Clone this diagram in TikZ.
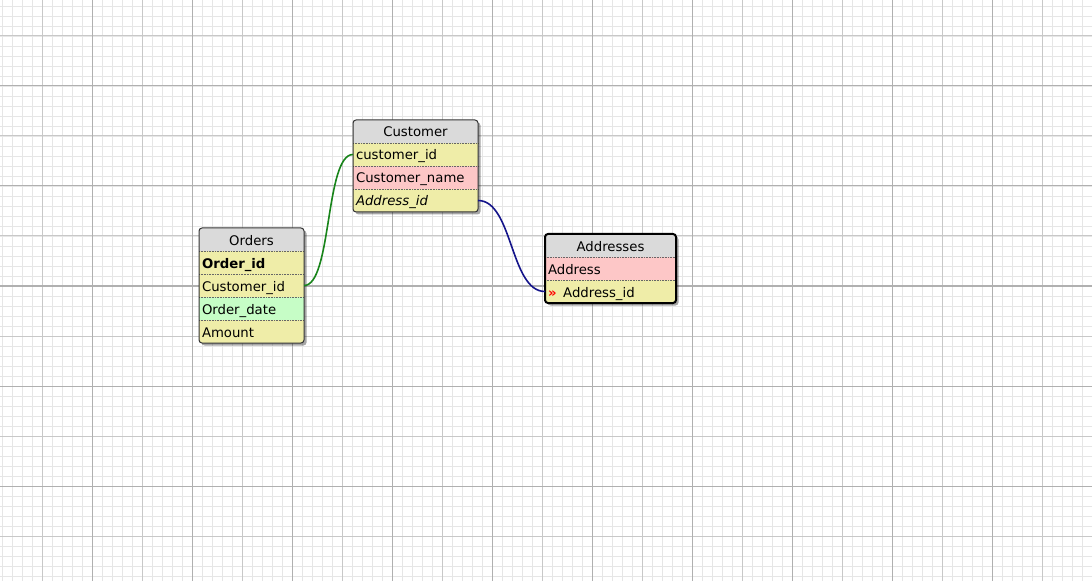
\documentclass[tikz,border=0pt]{standalone}
\usepackage{fontspec}
\setmainfont{DejaVu Sans}
\usetikzlibrary{shadows}

\definecolor{gridminor}{HTML}{E6E6E6}
\definecolor{gridmid}{HTML}{C8C8C8}
\definecolor{gridmajor}{HTML}{B0B0B0}
\definecolor{headgray}{HTML}{DADADA}
\definecolor{cellyellow}{HTML}{EFEDA8}
\definecolor{cellpink}{HTML}{FDC7C7}
\definecolor{cellgreen}{HTML}{C6FDC6}
\definecolor{linkgreen}{HTML}{18841A}
\definecolor{linkblue}{HTML}{14148A}

\tikzset{
  cell/.style={rectangle, anchor=north west, minimum height=23bp, inner xsep=3bp, inner ysep=0pt, outer sep=0pt,
    text height=12bp, text depth=1bp, font=\fontsize{13.3}{15}\selectfont, align=left},
  tabhead/.style={cell, fill=headgray, align=center},
  rowyel/.style={cell, fill=cellyellow},
  rowpnk/.style={cell, fill=cellpink},
  rowgrn/.style={cell, fill=cellgreen},
  rowsep/.style={densely dotted, draw=black!60, line width=0.6bp},
  tabframe/.style={rounded corners=3bp, draw=black!80, line width=1bp},
  tabshadow/.style={fill=white, rounded corners=3bp,
    drop shadow={shadow xshift=2.5bp, shadow yshift=-2.5bp, opacity=0.35, fill=black}},
  link/.style={line width=1.6bp}
}

\begin{document}
\begin{tikzpicture}[x=1bp,y=-1bp]
\useasboundingbox (0,0) rectangle (1092,581);
\fill[white] (0,0) rectangle (1092,581);
% grid
\foreach \x in {2.7,12.7,...,1092} \draw[gridminor, line width=0.7bp] (\x,0) -- (\x,581);
\foreach \y in {6,16,...,581} \draw[gridminor, line width=0.7bp] (0,\y) -- (1092,\y);
\foreach \x in {42.7,142.7,...,1092} \draw[gridmid, line width=1bp] (\x,0) -- (\x,581);
\foreach \y in {36,136,...,581} \draw[gridmid, line width=1bp] (0,\y) -- (1092,\y);
\foreach \x in {92.7,192.7,...,1092} \draw[gridmajor, line width=1bp] (\x,0) -- (\x,581);
\foreach \y in {86,186,...,581} \draw[gridmajor, line width=1bp] (0,\y) -- (1092,\y);

% Orders
\path[tabshadow] (199,228) rectangle (304,343);
\begin{scope}[every node/.append style={text width=99bp}]
\clip[rounded corners=3bp] (199,228) rectangle (304,343);
\node[tabhead] (ord) at (199,228) {Orders};
\node[rowyel] (ord-id) at (199,251) {\textbf{Order\_id}};
\node[rowyel] (ord-cust) at (199,274) {Customer\_id};
\node[rowgrn] (ord-date) at (199,297) {Order\_date};
\node[rowyel] (ord-amt) at (199,320) {Amount};
\end{scope}
\foreach \n in {ord,ord-id,ord-cust,ord-date} \draw[rowsep] (\n.south west) -- (\n.south east);
\draw[tabframe] (ord.north west) rectangle (ord-amt.south east);

% Customer
\path[tabshadow] (353,120) rectangle (478,212);
\begin{scope}[every node/.append style={text width=119bp}]
\clip[rounded corners=3bp] (353,120) rectangle (478,212);
\node[tabhead] (cus) at (353,120) {Customer};
\node[rowyel] (cus-id) at (353,143) {customer\_id};
\node[rowpnk] (cus-name) at (353,166) {Customer\_name};
\node[rowyel] (cus-addr) at (353,189) {\textit{Address\_id}};
\end{scope}
\foreach \n in {cus,cus-id,cus-name} \draw[rowsep] (\n.south west) -- (\n.south east);
\draw[tabframe] (cus.north west) rectangle (cus-addr.south east);

% Addresses
\path[tabshadow] (545,234) rectangle (676,303);
\begin{scope}[every node/.append style={text width=125bp}]
\clip[rounded corners=3bp] (545,234) rectangle (676,303);
\node[tabhead] (adr) at (545,234) {Addresses};
\node[rowpnk] (adr-addr) at (545,257) {Address};
\node[rowyel] (adr-id) at (545,280) {{\color{red}\textbf{»}}\ \,Address\_id};
\end{scope}
\foreach \n in {adr,adr-addr} \draw[rowsep] (\n.south west) -- (\n.south east);
\draw[tabframe, draw=black, line width=2bp] (adr.north west) rectangle (adr-id.south east);

% links
\draw[link, linkgreen] (ord-cust.east) .. controls +(28,0) and +(-28,0) .. (cus-id.west);
\draw[link, linkblue] (cus-addr.east) .. controls +(35,0) and +(-35,0) .. (adr-id.west);
\end{tikzpicture}
\end{document}
